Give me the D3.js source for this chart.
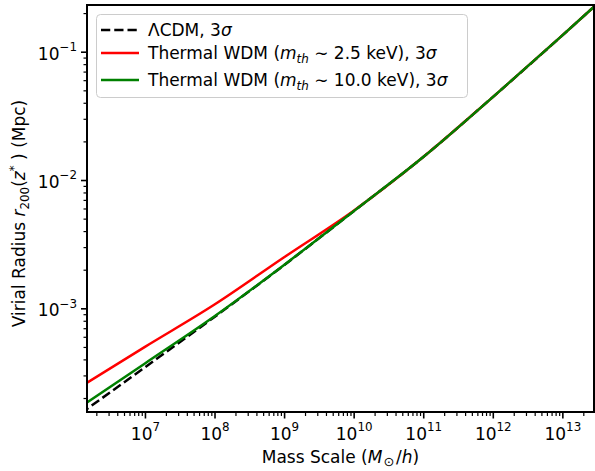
<!DOCTYPE html>
<html>
<head>
<meta charset="utf-8">
<script src="https://cdn.jsdelivr.net/npm/d3@7"></script>
<style>
  html, body { margin: 0; padding: 0; background: #fff; }
  svg { display: block; font-family: "DejaVu Sans", sans-serif; }
</style>
</head>
<body>
<svg id="chart" width="595" height="471"></svg>
<script>
// Halo mass (M_sun/h) at which each curve is sampled
const massLCDM = [1.2e6, 1e7, 1e8, 1e9, 1e10, 1e11, 1e12, 1e13, 3e13];
const massWDM25 = [1.2e6, 1e7, 1e8, 1e9, 1e10, 1e11, 1e12, 1e13, 3e13];
const massWDM10 = [1.2e6, 1e7, 1e8, 1e9, 1e10, 1e11, 1e12, 1e13, 3e13];

// Virial radius r_200(z*) in Mpc
const radiusLCDM = [1.52e-4, 3.47e-4, 8.57e-4, 2.17e-3, 5.71e-3, 1.51e-2, 4.43e-2, 0.134, 0.2297];
const radiusWDM25 = [2.46e-4, 5.01e-4, 1.07e-3, 2.50e-3, 5.76e-3, 1.51e-2, 4.43e-2, 0.134, 0.2297];
const radiusWDM10 = [1.71e-4, 3.72e-4, 8.67e-4, 2.18e-3, 5.72e-3, 1.51e-2, 4.43e-2, 0.134, 0.2297];

// Axis ticks
const xMajorExp = [7, 8, 9, 10, 11, 12, 13];
const yMajorExp = [-1, -2, -3];

const svg = d3.select("#chart");
const L = 87, R = 594, T = 5, B = 412;
const FS = 17;

const x = d3.scaleLog().domain([1.469e6, 2.85e13]).range([L, R]);
const y = d3.scaleLog().domain([1.556e-4, 0.2312]).range([B, T]);

// minor ticks: 2..9 x 10^k inside the domain
function minors(scale) {
  const [a, b] = scale.domain();
  const out = [];
  for (let k = Math.floor(Math.log10(a)); k <= Math.ceil(Math.log10(b)); k++) {
    for (let m = 2; m <= 9; m++) {
      const v = m * Math.pow(10, k);
      if (v >= a && v <= b) out.push(v);
    }
  }
  return out;
}

svg.append("clipPath").attr("id", "plotclip")
  .append("rect").attr("x", L).attr("y", T).attr("width", R - L).attr("height", B - T);

// curves
const line = d3.line()
  .x(d => x(d[0])).y(d => y(d[1]))
  .curve(d3.curveMonotoneX);

const series = [
  { m: massLCDM, r: radiusLCDM, color: "#000000", dash: "9.25,4" },
  { m: massWDM25, r: radiusWDM25, color: "#ff0000", dash: null },
  { m: massWDM10, r: radiusWDM10, color: "#008000", dash: null }
];

const plot = svg.append("g").attr("clip-path", "url(#plotclip)");
series.forEach(s => {
  plot.append("path")
    .datum(s.m.map((v, i) => [v, s.r[i]]))
    .attr("d", line)
    .attr("fill", "none")
    .attr("stroke", s.color)
    .attr("stroke-width", 2.5)
    .attr("stroke-dasharray", s.dash);
});

// axes
function styleAxis(g) {
  g.select(".domain").remove();
  g.selectAll(".tick line").attr("stroke", "#000").attr("stroke-width", 1.6);
}

const xMinor = svg.append("g").attr("transform", `translate(0,${B})`)
  .call(d3.axisBottom(x).tickValues(minors(x)).tickSize(4).tickFormat(""));
styleAxis(xMinor);
xMinor.selectAll(".tick line").attr("stroke-width", 1.2);

const xMajor = svg.append("g").attr("transform", `translate(0,${B})`)
  .call(d3.axisBottom(x).tickValues(xMajorExp.map(e => Math.pow(10, e))).tickSize(6.5).tickPadding(0).tickFormat(""));
styleAxis(xMajor);
xMajor.selectAll(".tick").each(function(d) {
  const e = Math.round(Math.log10(d));
  const t = d3.select(this).append("text")
    .attr("y", 27.5).attr("text-anchor", "middle")
    .attr("fill", "#000").style("font-size", FS + "px").style("font-family", "DejaVu Sans");
  t.append("tspan").text("10");
  t.append("tspan").attr("dy", -8.7).style("font-size", (FS * 0.7) + "px").text(String(e));
});

const yMinor = svg.append("g").attr("transform", `translate(${L},0)`)
  .call(d3.axisLeft(y).tickValues(minors(y)).tickSize(3.5).tickFormat(""));
styleAxis(yMinor);
yMinor.selectAll(".tick line").attr("stroke-width", 1.2);

const yMajor = svg.append("g").attr("transform", `translate(${L},0)`)
  .call(d3.axisLeft(y).tickValues(yMajorExp.map(e => Math.pow(10, e))).tickSize(6).tickPadding(0).tickFormat(""));
styleAxis(yMajor);
yMajor.selectAll(".tick").each(function(d) {
  const e = Math.round(Math.log10(d));
  const t = d3.select(this).append("text")
    .attr("x", -10).attr("y", 7.6).attr("text-anchor", "end")
    .attr("fill", "#000").style("font-size", FS + "px").style("font-family", "DejaVu Sans");
  t.append("tspan").text("10");
  t.append("tspan").attr("dy", -8.9).style("font-size", (FS * 0.7) + "px").text("\u2212" + Math.abs(e));
});

// frame
svg.append("rect").attr("x", L).attr("y", T).attr("width", R - L).attr("height", B - T)
  .attr("fill", "none").attr("stroke", "#000").attr("stroke-width", 2);

// axis labels
const xl = svg.append("text").attr("x", (L + R) / 2).attr("y", 462.5)
  .attr("text-anchor", "middle").style("font-size", FS + "px");
xl.append("tspan").text("Mass Scale (");
xl.append("tspan").style("font-style", "italic").text("M");
xl.append("tspan").attr("dy", 3.5).attr("dx", 1).style("font-size", (FS * 0.75) + "px").text("\u2299");
xl.append("tspan").attr("dy", -3.5).attr("dx", 2).text("/");
xl.append("tspan").style("font-style", "italic").text("h");
xl.append("tspan").text(")");

const yl = svg.append("text")
  .attr("transform", `translate(25,${(T + B) / 2 + 5}) rotate(-90)`)
  .attr("text-anchor", "middle").style("font-size", FS + "px");
yl.append("tspan").text("Virial Radius ");
yl.append("tspan").style("font-style", "italic").text("r");
yl.append("tspan").attr("dy", 3.5).style("font-size", (FS * 0.7) + "px").text("200");
yl.append("tspan").attr("dy", -3.5).text("(");
yl.append("tspan").style("font-style", "italic").text("z");
yl.append("tspan").attr("dy", -7).style("font-size", (FS * 0.7) + "px").text("*");
yl.append("tspan").attr("dy", 7).text(" ) (Mpc)");

// legend
const leg = svg.append("g");
leg.append("rect").attr("x", 96.5).attr("y", 14.5).attr("width", 371).attr("height", 83)
  .attr("rx", 4).attr("fill", "#fff").attr("fill-opacity", 0.8)
  .attr("stroke", "#cccccc").attr("stroke-width", 1);

const legendRows = [
  { yc: 30, color: "#000", dash: "9.25,4", parts: [["\u039BCDM, 3", ""], ["\u03C3", "i"]] },
  { yc: 53, color: "#ff0000", dash: null,
    parts: [["Thermal WDM (", ""], ["m", "i"], ["th", "sub"], [" \u223C 2.5 keV), 3", "back"], ["\u03C3", "i"]] },
  { yc: 80, color: "#008000", dash: null,
    parts: [["Thermal WDM (", ""], ["m", "i"], ["th", "sub"], [" \u223C 10.0 keV), 3", "back"], ["\u03C3", "i"]] }
];

legendRows.forEach(r => {
  leg.append("line").attr("x1", 101).attr("x2", 139).attr("y1", r.yc).attr("y2", r.yc)
    .attr("stroke", r.color).attr("stroke-width", 2.5).attr("stroke-dasharray", r.dash);
  const t = leg.append("text").attr("x", 148).attr("y", r.yc + 6).style("font-size", FS + "px");
  r.parts.forEach(([s, k]) => {
    const sp = t.append("tspan").text(s);
    if (k === "i") sp.style("font-style", "italic");
    if (k === "sub") sp.attr("dy", 3.5).style("font-style", "italic").style("font-size", (FS * 0.7) + "px");
    if (k === "back") sp.attr("dy", -3.5);
  });
});
</script>
</body>
</html>
